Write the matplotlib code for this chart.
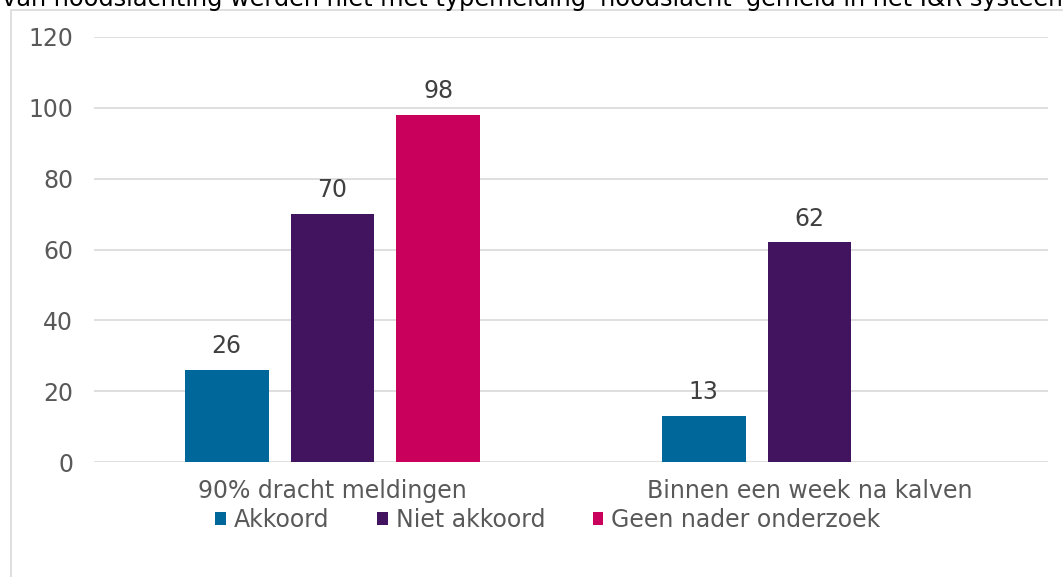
import numpy as np
import matplotlib.pyplot as plt
from matplotlib.patches import Rectangle

categories = ["90% dracht meldingen", "Binnen een week na kalven"]
series_names = ["Akkoord", "Niet akkoord", "Geen nader onderzoek"]
akkoord = [26, 13]
niet_akkoord = [70, 62]
geen_onderzoek = [98, None]
colors = ["#00679A", "#42145F", "#CA005D"]
title_text = "van noodslachting werden niet met typemelding 'noodslacht' gemeld in het I&R systeem"

W, H = 1063, 577
fig = plt.figure(figsize=(W / 100, H / 100), dpi=100)

# chart frame (partly outside the picture)
fig.patches.append(Rectangle((11 / W, -0.1), 1.2, 1 - 10 / H + 0.1,
                             transform=fig.transFigure, fill=False,
                             edgecolor="#D9D9D9", linewidth=1.2))
fig.text(2 / W, 1 - 6 / H, title_text, fontsize=17.3, color="black", va="baseline")

ax = fig.add_axes([94 / W, 1 - 462 / H, (1048 - 94) / W, (462 - 37) / H])

x = np.arange(len(categories))
width = 0.176
step = 0.222
fs = 17
all_series = [akkoord, niet_akkoord, geen_onderzoek]
for i, (vals, name, col) in enumerate(zip(all_series, series_names, colors)):
    xs = [xi + (i - 1) * step for xi, v in zip(x, vals) if v is not None]
    vs = [v for v in vals if v is not None]
    bars = ax.bar(xs, vs, width=width, color=col, label=name, zorder=3)
    for b, v in zip(bars, vs):
        ax.text(b.get_x() + b.get_width() / 2, v + 3.3, str(v), ha="center", va="bottom",
                fontsize=fs, color="#404040")

ax.set_xlim(-0.5, 1.5)
ax.set_ylim(0, 120)
ax.set_yticks(range(0, 121, 20))
ax.set_xticks(x)
ax.set_xticklabels(categories)
ax.grid(axis="y", color="#D9D9D9", linewidth=1.2, zorder=0)
for s in ax.spines.values():
    s.set_visible(False)
ax.tick_params(axis="both", length=0, labelsize=fs, labelcolor="#595959")
ax.tick_params(axis="y", pad=15)
ax.tick_params(axis="x", pad=12)

fig.legend(loc="center", bbox_to_anchor=(548 / W, 1 - 520 / H), ncol=3, frameon=False,
           fontsize=fs, labelcolor="#595959", handlelength=0.45, handleheight=0.45,
           handletextpad=0.35, columnspacing=2.0)

fig.savefig("out.png", dpi=100)
